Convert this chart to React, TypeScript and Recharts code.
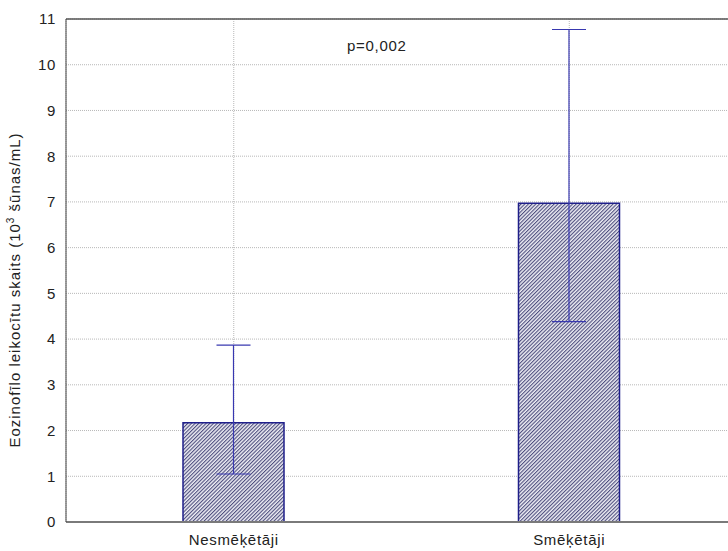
import React from 'react';
import { BarChart, Bar, XAxis, YAxis, CartesianGrid, ErrorBar, ReferenceLine, Customized } from 'recharts';

const categories = ['Nesmēķētāji', 'Smēķētāji'];
const means = [2.17, 6.97];
const lowerBounds = [1.05, 4.38];
const upperBounds = [3.87, 10.77];
const yTicks = [0, 1, 2, 3, 4, 5, 6, 7, 8, 9, 10, 11];
const pValueText = 'p=0,002';
const yAxisLabelMain = 'Eozinofīlo leikocītu skaits (10';
const yAxisLabelSup = '3';
const yAxisLabelEnd = ' šūnas/mL)';

const data = categories.map((name, i) => ({
  name,
  value: means[i],
  err: [means[i] - lowerBounds[i], upperBounds[i] - means[i]],
}));

const FONT = '"Liberation Sans", Arial, sans-serif';

const PText = () => (
  <text x={347} y={51} fontFamily={FONT} fontSize={15} letterSpacing={0.7} fill="#222">
    {pValueText}
  </text>
);

const YLabel = () => (
  <text
    x={0}
    y={0}
    transform="translate(20, 290) rotate(-90)"
    textAnchor="middle"
    fontFamily={FONT}
    fontSize={15}
    letterSpacing={1}
    fill="#222"
  >
    {yAxisLabelMain}
    <tspan fontSize={10} dy={-6}>{yAxisLabelSup}</tspan>
    <tspan dy={6}>{yAxisLabelEnd}</tspan>
  </text>
);

export default function App() {
  return (
    <div style={{ position: 'fixed', left: 0, top: 0, width: 728, height: 551, overflow: 'hidden', background: '#fff' }}>
      <BarChart
        width={745}
        height={551}
        data={data}
        margin={{ top: 19, right: 8, left: 0, bottom: 0 }}
        barCategoryGap={0}
      >
        <defs>
          <pattern id="hatch" patternUnits="userSpaceOnUse" width={2.6} height={2.6} patternTransform="rotate(45)">
            <rect x={0} y={0} width={2.6} height={2.6} fill="#eeeef5" />
            <line x1={0.6} y1={0} x2={0.6} y2={2.6} stroke="#34346a" strokeWidth={0.95} />
          </pattern>
        </defs>
        <CartesianGrid stroke="#b8b8b8" strokeDasharray="1 1" horizontal vertical />
        <XAxis
          dataKey="name"
          axisLine={{ stroke: '#7a7a7a', strokeWidth: 2 }}
          tickLine={false}
          tickSize={0}
          tickMargin={12}
          height={29}
          tick={{ fontFamily: FONT, fontSize: 15, fill: '#222', letterSpacing: 0.7 }}
          interval={0}
        />
        <YAxis
          domain={[0, 11]}
          ticks={yTicks}
          interval={0}
          width={66}
          axisLine={{ stroke: '#444', strokeWidth: 1 }}
          tickLine={false}
          tickSize={0}
          tickMargin={10}
          tick={{ fontFamily: FONT, fontSize: 15, fill: '#222', letterSpacing: 0.7 }}
        />
        <ReferenceLine y={11} stroke="#555" strokeWidth={1.5} />
        <Bar dataKey="value" barSize={101} fill="url(#hatch)" stroke="#1f1f8a" strokeWidth={1.5} isAnimationActive={false}>
          <ErrorBar dataKey="err" width={17} stroke="#3838b0" strokeWidth={1.2} direction="y" />
        </Bar>
        <Customized component={PText} />
        <Customized component={YLabel} />
      </BarChart>
    </div>
  );
}
